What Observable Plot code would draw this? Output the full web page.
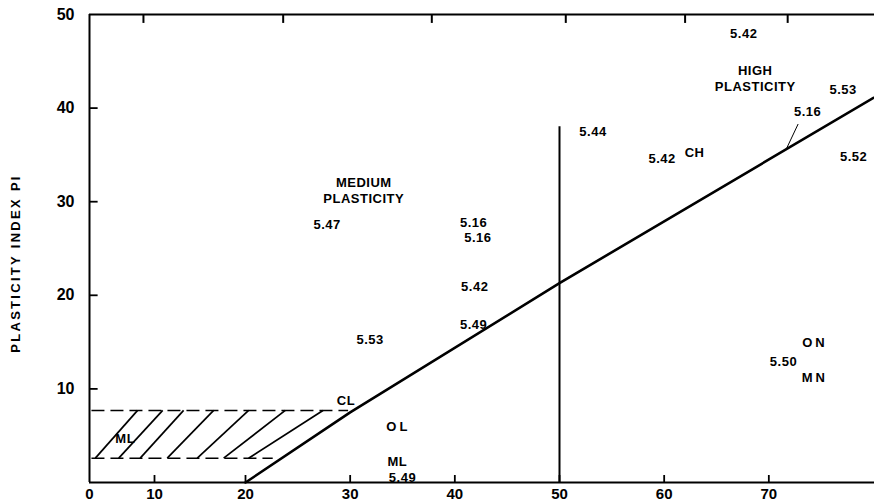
<!DOCTYPE html>
<html><head><meta charset="utf-8">
<script src="https://cdn.jsdelivr.net/npm/d3@7"></script>
<script src="https://cdn.jsdelivr.net/npm/@observablehq/plot@0.6"></script>
<style>body{margin:0;background:#fff}</style>
</head><body><div id="chart"></div>
<script>
// Axis ticks (liquid limit LL on x, plasticity index PI on y)
const xTicks = [0, 10, 20, 30, 40, 50, 60, 70];
const xTickMarks = [10, 20, 30, 40, 50, 60, 70];
const yTicks = [10, 20, 30, 40, 50];
const yTickMarks = [10, 20, 30, 40];
const topTickMarks = [8.3, 23.6, 37.8, 50.6, 62.0, 71.8];
const yTitle = "PLASTICITY INDEX PI";

// A-line
const aLineLL = [20, 30, 50, 80];
const aLinePI = [0, 7.5, 21.3, 41.1];

// Vertical divider LL = 50
const dividerLL = [50];
const dividerTopPI = 38;

// Dashed limits of the hatched CL-ML band
const dashLL0 = [0.3, 0.3];
const dashLL1 = [29.8, 22.6];
const dashPI = [7.7, 2.6];

// Hatch strokes (lower end LL at PI 2.6, upper end LL at PI 7.7)
const hatchLowLL = [0.9, 4.5, 7.8, 11.4, 14.7, 17.6, 20.3];
const hatchHighLL = [7.4, 10.9, 13.2, 16.5, 20.3, 23.8, 27.4];

// Leader for the 5.16 label near the A-line
const leaderLL = [72.8, 71.7];
const leaderPI = [38.3, 35.7];

// Text annotations
const labelText = ["5.42", "HIGH\nPLASTICITY", "5.53", "5.16", "5.52", "5.42", "CH", "5.44",
  "MEDIUM\nPLASTICITY", "5.47", "5.16", "5.16", "5.42", "5.49", "5.53", "CL", "5.49", "ML", "ML", "5.50"];
const labelLL = [67.6, 68.7, 77.1, 73.7, 78.1, 59.8, 62.9, 53.2,
  31.3, 27.8, 41.8, 42.2, 41.9, 41.8, 31.9, 29.6, 35.0, 34.5, 5.5, 71.4];
const labelPI = [48.0, 43.2, 42.1, 39.7, 34.9, 34.7, 35.3, 37.6,
  31.3, 27.6, 27.8, 26.3, 21.0, 17.0, 15.4, 8.8, 0.6, 2.3, 4.8, 13.0];
const spacedText = ["OL", "ON", "MN"];
const spacedLL = [34.6, 74.4, 74.4];
const spacedPI = [5.9, 14.9, 11.2];

const labels = labelText.map((t, i) => ({t, x: labelLL[i], y: labelPI[i]}));
const spaced = spacedText.map((t, i) => ({t, x: spacedLL[i], y: spacedPI[i]}));
const aLine = aLineLL.map((x, i) => ({x, y: aLinePI[i]}));
const dashes = dashPI.map((y, i) => ({x1: dashLL0[i], x2: dashLL1[i], y}));
const hatch = hatchLowLL.map((x, i) => ({x1: x, x2: hatchHighLL[i], y1: dashPI[1], y2: dashPI[0]}));
const leader = [{x1: leaderLL[0], x2: leaderLL[1], y1: leaderPI[0], y2: leaderPI[1]}];

const chart = Plot.plot({
  width: 874,
  height: 504,
  marginLeft: 89,
  marginRight: 0,
  marginTop: 14,
  marginBottom: 22,
  style: {fontFamily: "'Liberation Sans', Arial, sans-serif", background: "#fff", color: "#000"},
  x: {type: "linear", domain: [0, 10, 20, 80], range: [89, 154, 245, 873]},
  y: {type: "linear", domain: [0, 50], range: [482, 14]},
  marks: [
    Plot.axisX({ticks: xTicks, anchor: "bottom", tickSize: 0, tickPadding: 6, fontSize: 15, fontWeight: "bold", label: null}),
    Plot.axisY({ticks: yTicks, anchor: "left", tickSize: 0, tickPadding: 15, fontSize: 16, fontWeight: "bold", label: null}),
    // inner tick marks
    Plot.link(xTickMarks, {x1: d => d, x2: d => d, y1: () => 0, y2: () => 0.8, strokeWidth: 1.8}),
    Plot.link(topTickMarks, {x1: d => d, x2: d => d, y1: () => 50, y2: () => 49.1, strokeWidth: 2}),
    Plot.link(yTickMarks, {y1: d => d, y2: d => d, x1: () => 0, x2: () => 1.25, strokeWidth: 1.8}),
    Plot.text([yTitle], {frameAnchor: "left", textAnchor: "middle", rotate: -90, dx: -74, dy: 15, fontSize: 13, fontWeight: "bold"}),
    Plot.ruleX([0], {strokeWidth: 2}),
    Plot.ruleY([0, 50], {strokeWidth: 2}),
    Plot.ruleX(dividerLL, {y1: 0, y2: dividerTopPI, strokeWidth: 2}),
    Plot.line(aLine, {x: "x", y: "y", strokeWidth: 2.6}),
    Plot.link(dashes, {x1: "x1", x2: "x2", y1: "y", y2: "y", strokeWidth: 1.5, strokeDasharray: "13,6"}),
    Plot.link(hatch, {x1: "x1", x2: "x2", y1: "y1", y2: "y2", strokeWidth: 1.7}),
    Plot.link(leader, {x1: "x1", x2: "x2", y1: "y1", y2: "y2", strokeWidth: 1}),
    Plot.text(labels, {x: "x", y: "y", text: "t", fontSize: 13, fontWeight: "bold", lineHeight: 1.25}),
    Plot.text(spaced, {x: "x", y: "y", text: "t", fontSize: 13, fontWeight: "bold"})
  ]
});
document.getElementById("chart").appendChild(chart);
const textGroups = chart.querySelectorAll('g[aria-label="text"]');
const spacing = ["2.3px", "0.5px", "3px"];
textGroups.forEach((g, i) => { g.style.letterSpacing = spacing[i] || null; });
</script>
</body></html>
